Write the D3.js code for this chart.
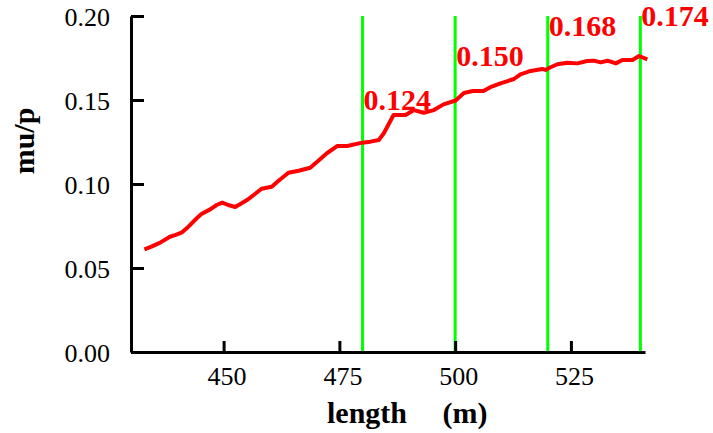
<!DOCTYPE html>
<html>
<head>
<meta charset="utf-8">
<script src="https://cdn.jsdelivr.net/npm/d3@7"></script>
</head>
<body style="margin:0">
<svg id="chart" width="713" height="433" font-family="Liberation Serif"></svg>
<script>

// length (m) and mu/p
var lengths = [432.9,434.4,436.3,438.4,439.5,440.9,442.4,444.2,445.2,447.1,448.5,449.7,
  451.0,452.5,453.9,455.3,457.1,458.2,459.3,460.4,461.8,463.6,464.0,466.2,
  468.7,470.2,472.3,474.5,476.7,479.9,481.7,483.5,484.6,486.7,489.3,491.1,
  493.2,495.4,497.5,500.1,501.9,503.8,506.1,507.6,509.8,512.7,514.1,516.3,
  518.8,519.5,520.6,522.1,524.2,526.4,528.5,530.0,531.4,532.9,534.7,536.1,538.3,539.7,541.5];
var muVals = [0.0611,0.0627,0.0651,0.0686,0.0696,0.0710,0.0746,0.0796,0.0821,0.0849,0.0875,0.0889,
  0.0875,0.0863,0.0885,0.0909,0.0948,0.0972,0.0978,0.0984,0.1018,0.1058,0.1067,0.1079,
  0.1097,0.1133,0.1183,0.1226,0.1226,0.1246,0.1252,0.1262,0.1302,0.1411,0.1411,0.1440,
  0.1424,0.1440,0.1474,0.1497,0.1542,0.1554,0.1554,0.1576,0.1599,0.1625,0.1653,0.1673,
  0.1685,0.1679,0.1695,0.1713,0.1722,0.1718,0.1732,0.1734,0.1724,0.1734,0.1718,0.1738,0.1738,0.1762,0.1742];

// vertical markers and their values
var markLengths = [480, 500, 520, 540];
var markValues = [0.124, 0.150, 0.168, 0.174];

var xTicks = [450, 475, 500, 525];
var yTicks = [0, 0.05, 0.10, 0.15, 0.20];

var svg = d3.select('#chart');

var x = d3.scaleLinear().domain([430, 541]).range([131, 645]);
var y = d3.scaleLinear().domain([0, 0.2]).range([352, 16]);

// green markers
svg.selectAll('.mark')
  .data(markLengths)
  .enter().append('line')
  .attr('class', 'mark')
  .attr('x1', d => x(d)).attr('x2', d => x(d))
  .attr('y1', y(0)).attr('y2', y(0.2))
  .attr('stroke', '#00ff00')
  .attr('stroke-width', 3);

var pts = lengths.map((d, i) => [d, muVals[i]]);

var line = d3.line()
  .x(d => x(d[0]))
  .y(d => y(d[1]));

svg.append('path')
  .datum(pts)
  .attr('d', line)
  .attr('fill', 'none')
  .attr('stroke', '#ff0000')
  .attr('stroke-width', 4)
  .attr('stroke-linejoin', 'round');

// value labels above each marker
svg.selectAll('.mlab')
  .data(markLengths)
  .enter().append('text')
  .attr('class', 'mlab')
  .attr('x', d => x(d) + 1)
  .attr('y', (d, i) => y(markValues[i] + 0.02))
  .attr('font-family', 'Liberation Serif')
  .attr('font-weight', 'bold')
  .attr('font-size', 30)
  .attr('fill', '#ff0000')
  .text((d, i) => markValues[i].toFixed(3));

// axes
var yAxis = d3.axisLeft(y)
  .tickValues(yTicks)
  .tickFormat(d3.format('.2f'))
  .tickSizeInner(-13)
  .tickSizeOuter(0)
  .tickPadding(21);

var gy = svg.append('g')
  .attr('transform', 'translate(' + x(430) + ',0)')
  .call(yAxis);

var xAxis = d3.axisBottom(x)
  .tickValues(xTicks)
  .tickSizeInner(-11)
  .tickSizeOuter(0);

var gx = svg.append('g')
  .attr('transform', 'translate(0,' + y(0) + ')')
  .call(xAxis);

[gx, gy].forEach(function(g) {
  g.attr('font-family', 'Liberation Serif').attr('font-size', 26);
  g.select('.domain').attr('stroke', '#000').attr('stroke-width', 3);
  g.selectAll('.tick line').attr('stroke', '#000').attr('stroke-width', 3);
  g.selectAll('.tick text').attr('fill', '#000');
});

gy.selectAll('.tick text').attr('dy', '0.36em');
gx.selectAll('.tick text').attr('y', 15).attr('dy', '0.71em').attr('x', 3);

// axis titles
svg.append('text')
  .attr('x', 367).attr('y', 423)
  .attr('text-anchor', 'middle')
  .attr('font-family', 'Liberation Serif')
  .attr('font-weight', 'bold')
  .attr('font-size', 30)
  .text('length');

svg.append('text')
  .attr('x', 465).attr('y', 423)
  .attr('text-anchor', 'middle')
  .attr('font-family', 'Liberation Serif')
  .attr('font-weight', 'bold')
  .attr('font-size', 30)
  .text('(m)');

svg.append('text')
  .attr('transform', 'translate(34,141) rotate(-90)')
  .attr('text-anchor', 'middle')
  .attr('font-family', 'Liberation Serif')
  .attr('font-weight', 'bold')
  .attr('font-size', 30)
  .text('mu/p');

</script>
</body>
</html>
